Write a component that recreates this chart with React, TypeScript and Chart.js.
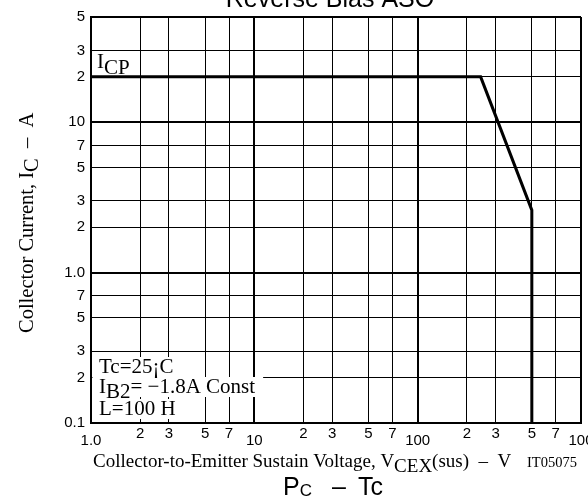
import { useEffect, useRef } from "react";
import { Chart, registerables } from "chart.js";

Chart.register(...registerables);

// ---- data ----
const xTicks = [1, 2, 3, 5, 7, 10, 20, 30, 50, 70, 100, 200, 300, 500, 700, 1000];
const xLabels = ["1.0", "2", "3", "5", "7", "10", "2", "3", "5", "7", "100", "2", "3", "5", "7", "100"];
const xLowered = [true, false, false, false, false, true, false, false, false, false, true, false, false, false, false, true];
const yTicks = [0.1, 0.2, 0.3, 0.5, 0.7, 1, 2, 3, 5, 7, 10, 20, 30, 50];
const yLabels = ["0.1", "2", "3", "5", "7", "1.0", "2", "3", "5", "7", "10", "2", "3", "5"];
const curveV = [1, 243, 500, 500];
const curveI = [20, 20, 2.6, 0.1];

const SERIF = '"Liberation Serif", "Times New Roman", serif';
const SANS = '"Liberation Sans", Arial, sans-serif';

type Seg = { t: string; font: string; dy?: number };

function segsWidth(ctx: CanvasRenderingContext2D, segs: Seg[]) {
  let w = 0;
  for (const s of segs) {
    ctx.font = s.font;
    w += ctx.measureText(s.t).width;
  }
  return w;
}

function drawSegs(ctx: CanvasRenderingContext2D, segs: Seg[], x: number, y: number) {
  let cx = x;
  for (const s of segs) {
    ctx.font = s.font;
    ctx.fillText(s.t, cx, y + (s.dy || 0));
    cx += ctx.measureText(s.t).width;
  }
  return cx - x;
}

const textPlugin = {
  id: "sheetText",
  afterDraw(chart: any) {
    const ctx: CanvasRenderingContext2D = chart.ctx;
    ctx.save();
    ctx.fillStyle = "#000";
    ctx.textBaseline = "alphabetic";
    ctx.textAlign = "left";

    // title (cut off at top)
    ctx.font = `25px ${SANS}`;
    ctx.textAlign = "center";
    ctx.fillText("Reverse Bias ASO", 330, 7);
    ctx.textAlign = "left";

    // next chart title (cut off at bottom)
    ctx.font = `25px ${SANS}`;
    ctx.fillText("P", 283, 495);
    const pw = ctx.measureText("P").width;
    ctx.font = `17px ${SANS}`;
    ctx.fillText("C", 283 + pw, 496);
    ctx.font = `25px ${SANS}`;
    ctx.fillText("\u2013", 332, 495);
    ctx.fillText("Tc", 358, 495);

    // ICP label
    const f21 = `21px ${SERIF}`;
    drawSegs(ctx, [
      { t: "I", font: f21 },
      { t: "CP", font: f21, dy: 6 },
    ], 97, 68);

    // condition box
    const lines: { segs: Seg[]; base: number }[] = [
      { segs: [{ t: "Tc=25\u00A1C", font: f21 }], base: 373 },
      {
        segs: [
          { t: "I", font: f21 },
          { t: "B2", font: f21, dy: 5 },
          { t: "= \u22121.8A Const", font: f21 },
        ],
        base: 393,
      },
      { segs: [{ t: "L=100 H", font: f21 }], base: 415 },
    ];
    const left = chart.chartArea.left;
    lines.forEach((ln, i) => {
      const w = segsWidth(ctx, ln.segs);
      ctx.fillStyle = "#fff";
      const extra = i === 1 ? 8 : 3;
      ctx.fillRect(left + 1.5, ln.base - 16, 99 - left - 1.5 + w + extra, 20);
    });
    ctx.fillStyle = "#000";
    lines.forEach((ln) => drawSegs(ctx, ln.segs, 99, ln.base));

    // x-axis title
    const f19 = `19px ${SERIF}`;
    drawSegs(ctx, [
      { t: "Collector-to-Emitter Sustain Voltage, V", font: f19 },
      { t: "CEX", font: f19, dy: 5 },
      { t: "(sus)  \u2013  V", font: f19 },
    ], 93, 467);
    ctx.font = `14.5px ${SERIF}`;
    ctx.fillText("IT05075", 527, 467);

    // y-axis title (rotated)
    const f20 = `20.5px ${SERIF}`;
    ctx.translate(33, 333);
    ctx.rotate(-Math.PI / 2);
    drawSegs(ctx, [
      { t: "Collector Current, I", font: f20 },
      { t: "C", font: f20, dy: 5 },
      { t: "  \u2013  A", font: f20 },
    ], 0, 0);
    ctx.restore();
  },
};

export default function App() {
  const ref = useRef<HTMLCanvasElement | null>(null);

  useEffect(() => {
    if (!ref.current) return;
    const isMajorX = (v: number) => v === 1 || v === 10 || v === 100 || v === 1000;
    const isMajorY = (v: number) => v === 0.1 || v === 1 || v === 10 || v === 50;
    const chart = new Chart(ref.current, {
      type: "line",
      data: {
        datasets: [
          {
            data: curveV.map((v, i) => ({ x: v, y: curveI[i] })),
            borderColor: "#000",
            borderWidth: 3,
            pointRadius: 0,
            tension: 0,
            fill: false,
          },
        ],
      },
      options: {
        responsive: false,
        animation: false,
        layout: { padding: { left: 0, top: 17, right: 7, bottom: 0 } },
        plugins: {
          legend: { display: false },
          title: { display: false },
          tooltip: { enabled: false },
        },
        scales: {
          x: {
            type: "logarithmic",
            position: "bottom",
            min: 1,
            max: 1000,
            afterBuildTicks: (s: any) => {
              s.ticks = xTicks.map((v) => ({ value: v }));
            },
            afterFit: (s: any) => {
              s.height = 73;
              s.paddingLeft = 0;
              s.paddingRight = 0;
            },
            ticks: {
              autoSkip: false,
              maxRotation: 0,
              minRotation: 0,
              padding: 7,
              color: "#000",
              font: { family: SANS, size: 15, lineHeight: 0.5 },
              callback: (_v: any, i: number) => (xLowered[i] ? ["", xLabels[i]] : xLabels[i]),
            },
            grid: {
              color: "#000",
              drawTicks: false,
              lineWidth: (c: any) => (c.tick && isMajorX(c.tick.value) ? 2 : 1),
            },
            border: { display: true, color: "#000", width: 2 },
          },
          y: {
            type: "logarithmic",
            position: "left",
            min: 0.1,
            max: 50,
            afterBuildTicks: (s: any) => {
              s.ticks = yTicks.map((v) => ({ value: v }));
            },
            afterFit: (s: any) => {
              s.width = 91;
              s.paddingTop = 0;
              s.paddingBottom = 0;
            },
            ticks: {
              autoSkip: false,
              padding: 6,
              color: "#000",
              font: { family: SANS, size: 15 },
              callback: (_v: any, i: number) => yLabels[i],
            },
            grid: {
              color: "#000",
              drawTicks: false,
              lineWidth: (c: any) => (c.tick && isMajorY(c.tick.value) ? 2 : 1),
            },
            border: { display: true, color: "#000", width: 2 },
          },
        },
      },
      plugins: [textPlugin],
    } as any);
    return () => chart.destroy();
  }, []);

  return (
    <div style={{ position: "absolute", left: 0, top: 0, width: 588, height: 496, background: "#fff" }}>
      <canvas ref={ref} width={588} height={496} style={{ display: "block" }} />
    </div>
  );
}
